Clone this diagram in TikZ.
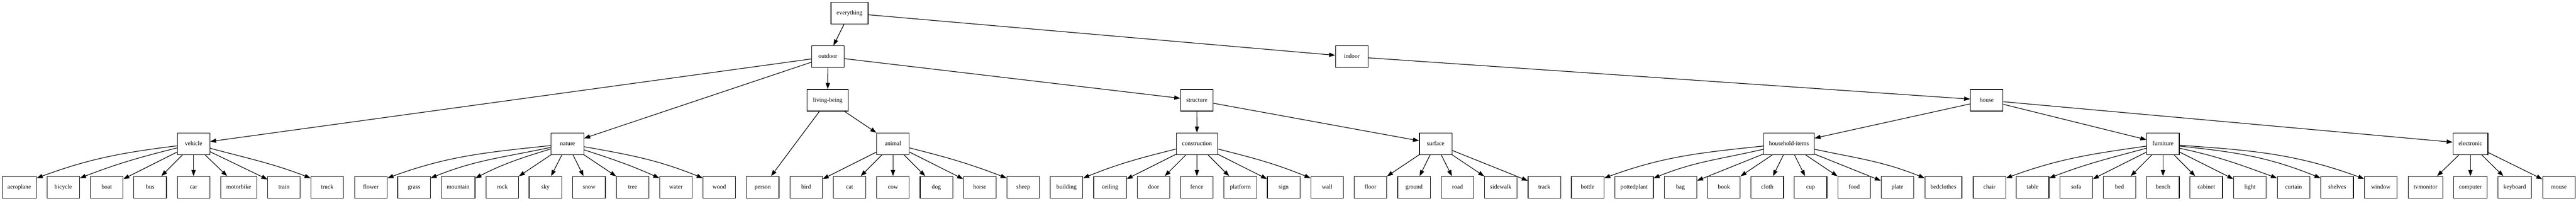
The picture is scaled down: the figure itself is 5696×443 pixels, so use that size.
\documentclass[tikz,border=0pt]{standalone}
\usepackage{fontspec}
\setmainfont{Liberation Serif}
\usetikzlibrary{arrows.meta}
\begin{document}
\begin{tikzpicture}[x=0.75pt,y=0.75pt,
  gbox/.style={draw, rectangle, line width=1pt, minimum width=54pt, minimum height=36pt, inner sep=0pt, text height=7pt, text depth=1.8pt, font=\fontsize{10pt}{12pt}\selectfont},
  conn/.style={draw, line width=1pt, -{Triangle[length=10pt,width=7pt]}}]
\useasboundingbox (0,0) rectangle (5696,443);
% row 0
\node[gbox, minimum width=61.5pt] (everything) at (1878.5,414) {everything};
% row 1
\node[gbox] (outdoor) at (1830.6,318) {outdoor};
\node[gbox] (indoor) at (2989,318) {indoor};
% row 2
\node[gbox, minimum width=68pt] (living) at (1830.3,222) {living-being};
\node[gbox] (structure) at (2646.4,222) {structure};
\node[gbox] (house) at (4393,222) {house};
% row 3
\node[gbox] (vehicle) at (428,126) {vehicle};
\node[gbox] (nature) at (1254.8,126) {nature};
\node[gbox] (animal) at (1974.5,126) {animal};
\node[gbox, minimum width=68pt] (construction) at (2646.7,126) {construction};
\node[gbox] (surface) at (3174.4,126) {surface};
\node[gbox, minimum width=83.7pt] (household) at (3955.7,126) {household-items};
\node[gbox] (furniture) at (4782.8,126) {furniture};
\node[gbox, minimum width=57.8pt] (electronic) at (5462.5,126) {electronic};
% row 4
\node[gbox, minimum width=56.5pt] (aeroplane) at (42.7,30) {aeroplane};
\node[gbox] (bicycle) at (140,30) {bicycle};
\node[gbox] (boat) at (236,30) {boat};
\node[gbox] (bus) at (332,30) {bus};
\node[gbox] (car) at (428,30) {car};
\node[gbox, minimum width=59.3pt] (motorbike) at (528,30) {motorbike};
\node[gbox] (train) at (628,30) {train};
\node[gbox] (truck) at (723.5,30) {truck};
\node[gbox] (flower) at (820,30) {flower};
\node[gbox] (grass) at (915.5,30) {grass};
\node[gbox, minimum width=56pt] (mountain) at (1013,30) {mountain};
\node[gbox] (rock) at (1110.7,30) {rock};
\node[gbox] (sky) at (1206,30) {sky};
\node[gbox] (snow) at (1302.6,30) {snow};
\node[gbox] (tree) at (1399,30) {tree};
\node[gbox] (water) at (1494.6,30) {water};
\node[gbox] (wood) at (1590.5,30) {wood};
\node[gbox] (person) at (1686.5,30) {person};
\node[gbox] (bird) at (1782.5,30) {bird};
\node[gbox] (cat) at (1878.5,30) {cat};
\node[gbox] (cow) at (1974.5,30) {cow};
\node[gbox] (dog) at (2070.5,30) {dog};
\node[gbox] (horse) at (2166.4,30) {horse};
\node[gbox] (sheep) at (2262.5,30) {sheep};
\node[gbox] (building) at (2358.4,30) {building};
\node[gbox] (ceiling) at (2454.4,30) {ceiling};
\node[gbox] (door) at (2550.7,30) {door};
\node[gbox] (fence) at (2646.4,30) {fence};
\node[gbox] (platform) at (2742.6,30) {platform};
\node[gbox] (sign) at (2838.3,30) {sign};
\node[gbox] (wall) at (2934.6,30) {wall};
\node[gbox] (floor) at (3030.3,30) {floor};
\node[gbox] (ground) at (3126.6,30) {ground};
\node[gbox] (road) at (3222.9,30) {road};
\node[gbox] (sidewalk) at (3318.5,30) {sidewalk};
\node[gbox] (track) at (3414.8,30) {track};
\node[gbox] (bottle) at (3510.5,30) {bottle};
\node[gbox, minimum width=63.6pt] (pottedplant) at (3613.2,30) {pottedplant};
\node[gbox] (bag) at (3715.8,30) {bag};
\node[gbox] (book) at (3811.9,30) {book};
\node[gbox] (cloth) at (3907.9,30) {cloth};
\node[gbox] (cup) at (4003.5,30) {cup};
\node[gbox] (food) at (4099.8,30) {food};
\node[gbox] (plate) at (4195.5,30) {plate};
\node[gbox, minimum width=61.2pt] (bedclothes) at (4297.2,30) {bedclothes};
\node[gbox] (chair) at (4399,30) {chair};
\node[gbox] (table) at (4494.5,30) {table};
\node[gbox] (sofa) at (4590.8,30) {sofa};
\node[gbox] (bed) at (4686.5,30) {bed};
\node[gbox] (bench) at (4782.8,30) {bench};
\node[gbox] (cabinet) at (4878.5,30) {cabinet};
\node[gbox] (light) at (4975,30) {light};
\node[gbox] (curtain) at (5071.4,30) {curtain};
\node[gbox] (shelves) at (5167.8,30) {shelves};
\node[gbox] (window) at (5264.3,30) {window};
\node[gbox, minimum width=57.4pt] (tvmonitor) at (5363.3,30) {tvmonitor};
\node[gbox, minimum width=55.5pt] (computer) at (5462.5,30) {computer};
\node[gbox, minimum width=55.5pt] (keyboard) at (5560.5,30) {keyboard};
\node[gbox] (mouse) at (5658.2,30) {mouse};
% upper edges
\draw[conn] (everything) -- (outdoor);
\draw[conn] (everything) -- (indoor);
\draw[conn] (outdoor) -- (vehicle);
\draw[conn] (outdoor) -- (nature);
\draw[conn] (outdoor) -- (living);
\draw[conn] (outdoor) -- (structure);
\draw[conn] (indoor) -- (house);
\draw[conn] (living) -- (person);
\draw[conn] (living) -- (animal);
\draw[conn] (structure) -- (construction);
\draw[conn] (structure) -- (surface);
\draw[conn] (house) -- (household);
\draw[conn] (house) -- (furniture);
\draw[conn] (house) -- (electronic);
% vehicle
\draw[conn] (vehicle.187) to[out=187,in=20] (aeroplane.28);
\draw[conn] (vehicle.194) to[out=194,in=21] (bicycle.29);
\draw[conn] (vehicle) -- (boat);
\draw[conn] (vehicle) -- (bus);
\draw[conn] (vehicle) -- (car);
\draw[conn] (vehicle) -- (motorbike);
\draw[conn] (vehicle) -- (train);
\draw[conn] (vehicle.345) to[out=-15,in=159] (truck.151);
% nature
\draw[conn] (nature.186) to[out=186,in=20] (flower.29);
\draw[conn] (nature.192) to[out=192,in=22] (grass.29);
\draw[conn] (nature.197) to[out=197,in=27] (mountain.28);
\draw[conn] (nature) -- (rock);
\draw[conn] (nature) -- (sky);
\draw[conn] (nature) -- (snow);
\draw[conn] (nature) -- (tree);
\draw[conn] (nature.340) to[out=-18,in=156] (water.151);
\draw[conn] (nature.350) to[out=-10,in=158] (wood.151);
% animal
\draw[conn] (animal) -- (bird);
\draw[conn] (animal) -- (cat);
\draw[conn] (animal) -- (cow);
\draw[conn] (animal) -- (dog);
\draw[conn] (animal) -- (horse);
\draw[conn] (animal.346) to[out=-14,in=159] (sheep.151);
% construction
\draw[conn] (construction.194) to[out=194,in=22] (building.29);
\draw[conn] (construction) -- (ceiling);
\draw[conn] (construction) -- (door);
\draw[conn] (construction) -- (fence);
\draw[conn] (construction) -- (platform);
\draw[conn] (construction) -- (sign);
\draw[conn] (construction.346) to[out=-14,in=158] (wall.151);
% surface
\draw[conn] (surface) -- (floor);
\draw[conn] (surface) -- (ground);
\draw[conn] (surface) -- (road);
\draw[conn] (surface) -- (sidewalk);
\draw[conn] (surface) -- (track);
% household-items
\draw[conn] (household.185) to[out=186,in=20] (bottle.29);
\draw[conn] (household.192) to[out=193,in=22] (pottedplant.25);
\draw[conn] (household) -- (bag);
\draw[conn] (household) -- (book);
\draw[conn] (household) -- (cloth);
\draw[conn] (household) -- (cup);
\draw[conn] (household) -- (food);
\draw[conn] (household) -- (plate);
\draw[conn] (household.348) to[out=-12,in=158] (bedclothes.154);
% furniture
\draw[conn] (furniture.188) to[out=188,in=20] (chair.29);
\draw[conn] (furniture.195) to[out=195,in=21] (table.29);
\draw[conn] (furniture) -- (sofa);
\draw[conn] (furniture) -- (bed);
\draw[conn] (furniture) -- (bench);
\draw[conn] (furniture) -- (cabinet);
\draw[conn] (furniture) -- (light);
\draw[conn] (furniture.345) to[out=-12,in=160] (curtain.151);
\draw[conn] (furniture.352) to[out=-6,in=158] (shelves.151);
\draw[conn] (furniture.355) to[out=-4,in=160] (window.153);
% electronic
\draw[conn] (electronic) -- (tvmonitor);
\draw[conn] (electronic) -- (computer);
\draw[conn] (electronic) -- (keyboard);
\draw[conn] (electronic) -- (mouse);
\end{tikzpicture}
\end{document}
